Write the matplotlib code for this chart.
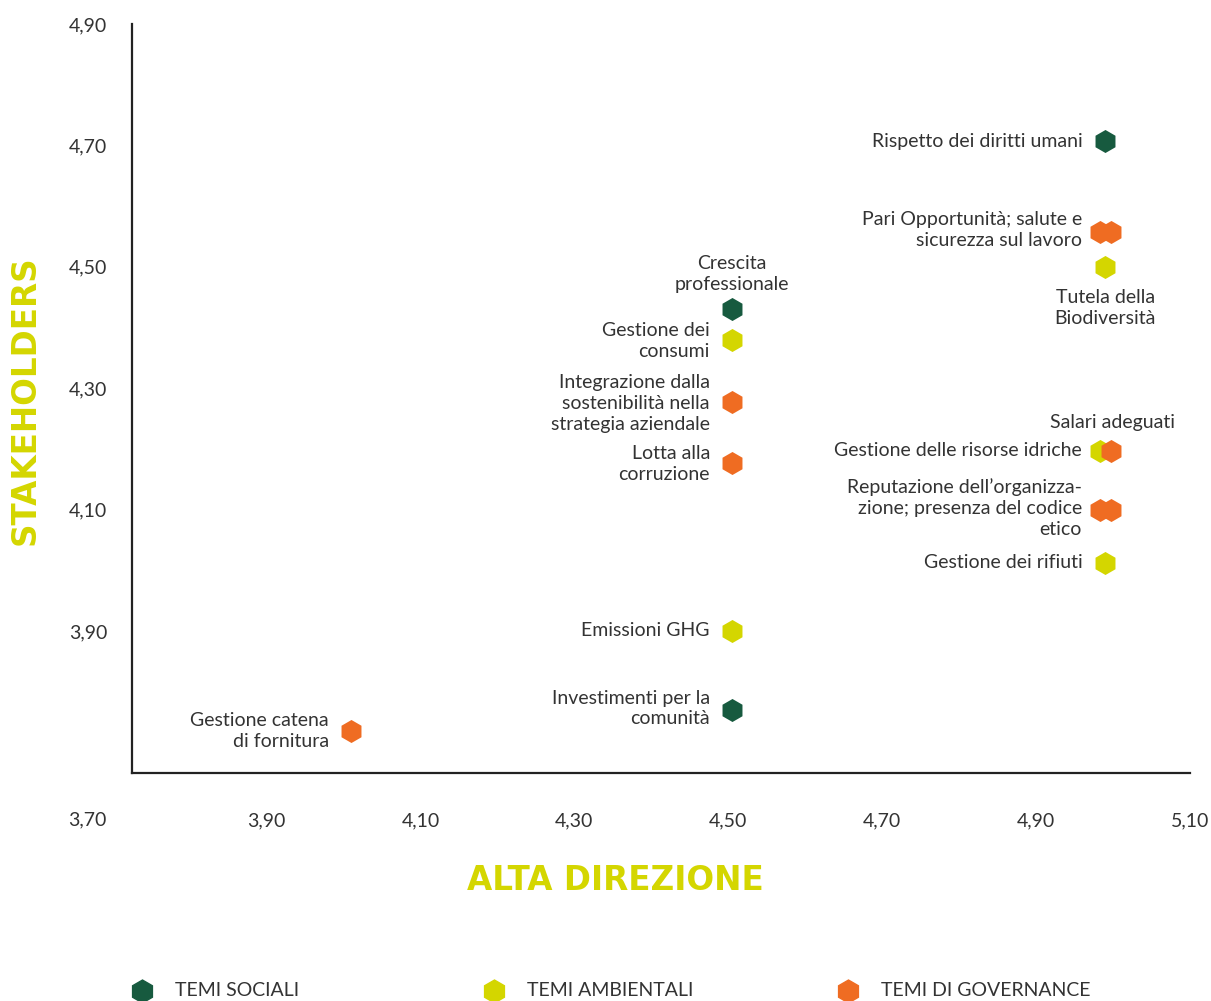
import matplotlib.pyplot as plt
from matplotlib.lines import Line2D

# temi materiali: alta direzione (x) vs stakeholders (y)
temi = ["Rispetto dei diritti umani", "Pari Opportunità", "Salute e sicurezza sul lavoro",
        "Tutela della Biodiversità", "Crescita professionale", "Gestione dei consumi",
        "Integrazione dalla sostenibilità nella strategia aziendale", "Lotta alla corruzione",
        "Emissioni GHG", "Investimenti per la comunità", "Gestione catena di fornitura",
        "Gestione delle risorse idriche", "Salari adeguati",
        "Reputazione dell'organizzazione", "Presenza del codice etico", "Gestione dei rifiuti"]
alta_direzione = [4.99, 4.983, 4.997, 4.99, 4.505, 4.505, 4.505, 4.505,
                  4.505, 4.505, 4.01, 4.983, 4.997, 4.983, 4.997, 4.99]
stakeholders = [4.707, 4.558, 4.558, 4.50, 4.43, 4.38, 4.277, 4.177,
                3.90, 3.77, 3.735, 4.197, 4.197, 4.10, 4.10, 4.012]
gruppo = ["S", "G", "G", "A", "S", "A", "G", "G",
          "A", "S", "G", "A", "G", "G", "G", "A"]

colori = {"S": "#175a3f", "A": "#d4d600", "G": "#ef6c22"}
legenda = [("S", "TEMI SOCIALI"), ("A", "TEMI AMBIENTALI"), ("G", "TEMI DI GOVERNANCE")]

# etichette: testo, indice del punto, offset (pt), allineamento
etichette = [
    ("Rispetto dei diritti umani", 0, (-16, 0), "right", "center"),
    ("Pari Opportunità; salute e\nsicurezza sul lavoro", 1, (-13, 1), "right", "center"),
    ("Tutela della\nBiodiversità", 3, (0, -16), "center", "top"),
    ("Crescita\nprofessionale", 4, (0, 12), "center", "bottom"),
    ("Gestione dei\nconsumi", 5, (-16, -1), "right", "center"),
    ("Integrazione dalla\nsostenibilità nella\nstrategia aziendale", 6, (-16, -1), "right", "center"),
    ("Lotta alla\ncorruzione", 7, (-16, -1), "right", "center"),
    ("Emissioni GHG", 8, (-16, 0), "right", "center"),
    ("Investimenti per la\ncomunità", 9, (-16, 1), "right", "center"),
    ("Gestione catena\ndi fornitura", 10, (-16, 0), "right", "center"),
    ("Gestione delle risorse idriche", 11, (-13, 0), "right", "center"),
    ("Salari adeguati", 12, (1, 14), "center", "bottom"),
    ("Reputazione dell\u2019organizza-\nzione; presenza del codice\netico", 13, (-13, 1), "right", "center"),
    ("Gestione dei rifiuti", 15, (-16, 0), "right", "center"),
]

plt.rcParams['font.family'] = ['Lato', 'DejaVu Sans']
testo = "#333333"
fs = 14

fig = plt.figure(figsize=(12.11, 10.01), dpi=100)
ax = fig.add_axes([132/1211, 1-773/1001, (1190-132)/1211, (773-24)/1001])

for i in range(len(temi)):
    ax.scatter(alta_direzione[i], stakeholders[i], s=275, marker="h",
               color=colori[gruppo[i]], linewidths=0, zorder=3+i, clip_on=False)

for txt, i, off, ha, va in etichette:
    ax.annotate(txt, (alta_direzione[i], stakeholders[i]), xytext=off,
                textcoords="offset points", ha=ha, va=va, fontsize=fs,
                color=testo, linespacing=1.28)

ax.set_xlim(3.725, 5.10)
ax.set_ylim(3.666, 4.90)
xt = [3.90, 4.10, 4.30, 4.50, 4.70, 4.90, 5.10]
yt = [3.90, 4.10, 4.30, 4.50, 4.70, 4.90]
ax.set_xticks(xt)
ax.set_xticklabels([f"{v:.2f}".replace(".", ",") for v in xt])
ax.set_yticks(yt)
ax.set_yticklabels([f"{v:.2f}".replace(".", ",") for v in yt])
ax.tick_params(axis="x", length=0, pad=28, labelsize=fs, labelcolor=testo)
ax.tick_params(axis="y", length=0, pad=18, labelsize=fs, labelcolor=testo)
ax.text(-45/1058, -47/749, "3,70", transform=ax.transAxes, ha="center", va="center",
        fontsize=fs, color=testo)

for s in ["top", "right"]:
    ax.spines[s].set_visible(False)
for s in ["left", "bottom"]:
    ax.spines[s].set_color("#222222")
    ax.spines[s].set_linewidth(1.6)

fig.text(25/1211, 1-400/1001, "STAKEHOLDERS", rotation=90, ha="center", va="center",
         fontsize=23.5, fontweight="bold", family="DejaVu Sans", color=colori["A"])
fig.text(615/1211, 1-880/1001, "ALTA DIREZIONE", ha="center", va="center",
         fontsize=23.5, fontweight="bold", family="DejaVu Sans", color=colori["A"])

# legenda manuale in basso
for k, (g, nome) in enumerate(legenda):
    x0 = [142, 494, 848][k]
    fig.add_artist(Line2D([x0/1211], [1-991/1001], marker="h", markersize=16.5,
                          color=colori[g], linestyle="none", transform=fig.transFigure))
    fig.text((x0+33)/1211, 1-991/1001, nome, ha="left", va="center", fontsize=fs,
             color=testo)

fig.savefig("out.png", dpi=100)
